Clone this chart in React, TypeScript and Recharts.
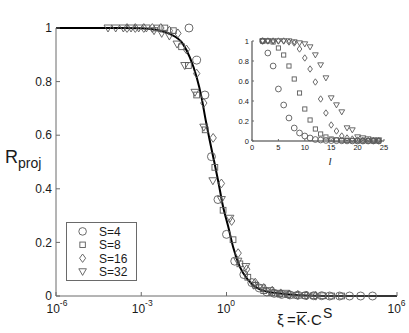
import { ComposedChart, ScatterChart, Scatter, Line, XAxis, YAxis, Legend } from 'recharts'

const FONT = '"Liberation Sans", Arial, sans-serif'
const AXIS = '#6a6a6a'
const INK = '#1a1a1a'
const MARK = '#5a5a5a'

const seriesNames = ['S=4', 'S=8', 'S=16', 'S=32']
const markerKinds = ['circle', 'square', 'diamond', 'triangle']

// l, shared by all four S
const lengths = [2, 3, 4, 5, 6, 7, 8, 9, 10, 11, 12, 13, 14, 15, 16, 17, 18, 19, 20, 21, 22, 23, 24]

// R_proj per l
const rS4 = [1.0, 0.88, 0.75, 0.52, 0.36, 0.23, 0.13, 0.08, 0.05, 0.03, 0.015, 0.01, 0.006, 0.004, 0.003, 0.002, 0.001, 0.001, 0, 0, 0, 0, 0]
const rS8 = [1, 1, 0.99, 0.93, 0.86, 0.75, 0.62, 0.48, 0.32, 0.21, 0.12, 0.07, 0.04, 0.02, 0.012, 0.008, 0.005, 0.003, 0.002, 0.001, 0.001, 0, 0]
const rS16 = [1, 1, 1, 1, 1, 0.99, 0.98, 0.92, 0.83, 0.72, 0.59, 0.42, 0.28, 0.16, 0.1, 0.05, 0.03, 0.02, 0.01, 0.006, 0.004, 0.002, 0.001]
const rS32 = [1, 1, 1, 1, 1, 1, 0.99, 0.98, 0.97, 0.94, 0.86, 0.76, 0.63, 0.43, 0.36, 0.29, 0.13, 0.11, 0.04, 0.03, 0.02, 0.01, 0.01]

// log10(xi) of the same points in the main panel
const logXiS4 = [-1.32, -1.05, -0.76, -0.53, -0.3, 0.0, 0.29, 0.61, 0.89, 1.15, 1.42, 1.68, 1.94, 2.23, 2.51, 2.79, 3.07, 3.35, 3.63, 3.98, 4.33, 4.72, 5.14]
const logXiS8 = [-2.45, -2.17, -1.87, -1.58, -1.34, -1.05, -0.75, -0.41, -0.12, 0.23, 0.47, 0.75, 1.03, 1.31, 1.59, 1.87, 2.16, 2.44, 2.75, 3.07, 3.39, 3.7, 4.05]
const logXiS16 = [-3.5, -3.21, -2.91, -2.61, -2.31, -2.01, -1.71, -1.41, -1.05, -0.8, -0.47, -0.18, 0.18, 0.41, 0.71, 1.01, 1.31, 1.61, 1.91, 2.21, 2.51, 2.82, 3.14]
const logXiS32 = [-4.17, -3.9, -3.63, -3.36, -3.09, -2.82, -2.55, -2.28, -2.01, -1.74, -1.47, -1.11, -0.8, -0.48, -0.18, 0.12, 0.4, 0.68, 0.96, 1.24, 1.52, 1.8, 2.08]

// master curve
const curveLogXi = [-6, -4, -3, -2.5, -2.0, -1.53, -1.29, -1.05, -0.88, -0.73, -0.59, -0.43, -0.3, -0.12, 0.06, 0.23, 0.47, 0.76, 1.23, 1.81, 2.5, 3.5, 6]
const curveR = [1, 1, 0.999, 0.994, 0.978, 0.94, 0.89, 0.816, 0.742, 0.655, 0.58, 0.5, 0.433, 0.333, 0.259, 0.184, 0.109, 0.06, 0.022, 0.01, 0.003, 0, 0]

const xTicks = [1e-6, 1e-3, 1, 1e3, 1e6]
const xTickExponents = ['-6', '-3', '0', '', '6'] // 10^3 label is hidden behind the axis title
const yTicks = [0, 0.2, 0.4, 0.6, 0.8, 1]
const insetXTicks = [0, 5, 10, 15, 20, 25]

const rBySeries = [rS4, rS8, rS16, rS32]
const logXiBySeries = [logXiS4, logXiS8, logXiS16, logXiS32]
const series = seriesNames.map((name, s) => ({
  name,
  kind: markerKinds[s],
  points: lengths.map((l, i) => ({ l, xi: 10 ** logXiBySeries[s][i], r: rBySeries[s][i] })),
}))
const curve = curveLogXi.map((e, i) => ({ xi: 10 ** e, r: curveR[i] }))

function Marker({ kind, cx, cy, size }: { kind: string; cx: number; cy: number; size: number }) {
  const st = { fill: 'none', stroke: MARK, strokeWidth: 0.9 }
  if (kind === 'circle') return <circle cx={cx} cy={cy} r={size} {...st} />
  if (kind === 'square') {
    const h = size * 0.72
    return <rect x={cx - h} y={cy - h} width={2 * h} height={2 * h} {...st} />
  }
  if (kind === 'diamond') {
    const w = size * 0.8
    const h = size * 1.1
    return <path d={`M${cx},${cy - h}L${cx + w},${cy}L${cx},${cy + h}L${cx - w},${cy}Z`} {...st} />
  }
  return <path d={`M${cx - size},${cy - size * 0.75}L${cx + size},${cy - size * 0.75}L${cx},${cy + size}Z`} {...st} />
}

function BottomTick({ x, y, index }: any) {
  const exp = xTickExponents[index]
  return (
    <g>
      <line x1={x} x2={x} y1={y} y2={y - 4} stroke={AXIS} />
      {exp !== '' && (
        <text x={x - 9.5} y={y + 17} fontFamily={FONT} fontSize={12} fill={INK}>
          10<tspan dy={-7} fontSize={8.5}>{exp}</tspan>
        </text>
      )}
    </g>
  )
}
const TopTick = ({ x, y }: any) => <line x1={x} x2={x} y1={y} y2={y + 4} stroke={AXIS} />
function LeftTick({ x, y, payload }: any) {
  return (
    <g>
      <line x1={x} x2={x + 4} y1={y} y2={y} stroke={AXIS} />
      <text x={x - 4} y={y + 4.2} textAnchor="end" fontFamily={FONT} fontSize={12} fill={INK}>
        {payload.value}
      </text>
    </g>
  )
}
const RightTick = ({ x, y }: any) => <line x1={x} x2={x - 4} y1={y} y2={y} stroke={AXIS} />

function InsetBottomTick({ x, y, payload }: any) {
  return (
    <g>
      <line x1={x} x2={x} y1={y} y2={y - 2} stroke={AXIS} />
      <text x={x} y={y + 8.5} textAnchor="middle" fontFamily={FONT} fontSize={7.5} fill={INK}>
        {payload.value}
      </text>
    </g>
  )
}
function InsetLeftTick({ x, y, payload }: any) {
  return (
    <g>
      <line x1={x} x2={x + 2} y1={y} y2={y} stroke={AXIS} />
      <text x={x - 3} y={y + 2.6} textAnchor="end" fontFamily={FONT} fontSize={7.5} fill={INK}>
        {payload.value}
      </text>
    </g>
  )
}

const XTitle = () => (
  <g>
    <text y={325} fontFamily={FONT} fontSize={15} fill={INK}>
      <tspan x={277}>ξ</tspan>
      <tspan x={287}>=</tspan>
      <tspan x={296.5}>K</tspan>
      <tspan x={306}>·</tspan>
      <tspan x={311}>C</tspan>
      <tspan x={323} dy={-7} fontSize={14}>S</tspan>
    </text>
    <line x1={296.5} x2={307} y1={312.5} y2={312.5} stroke={INK} strokeWidth={1} />
  </g>
)
const YTitle = () => (
  <text x={5} y={162.5} fontFamily={FONT} fill={INK}>
    <tspan fontSize={18}>R</tspan>
    <tspan fontSize={14} dy={5.5}>proj</tspan>
  </text>
)
const PanelTitle = () => (
  <text x={61} y={17} fontFamily={FONT} fontSize={17} fill={INK}>a)</text>
)
const InsetXTitle = () => (
  <text x={108} y={135} textAnchor="middle" fontFamily='"Liberation Serif", serif' fontStyle="italic" fontSize={11} fill={INK}>l</text>
)

function LegendBox({ payload }: any) {
  const entries = seriesNames.filter((n) => (payload || []).some((p: any) => p.value === n))
  return (
    <svg width={71} height={60} style={{ display: 'block' }}>
      <rect x={0.5} y={0.5} width={70} height={58} fill="#fff" stroke={AXIS} />
      {entries.map((name, i) => {
        const cy = 9.4 + i * 13.4
        return (
          <g key={name}>
            <Marker kind={markerKinds[seriesNames.indexOf(name)]} cx={16.6} cy={cy} size={3.8} />
            <text x={33} y={cy + 4.3} fontFamily={FONT} fontSize={12} fill={INK}>{name}</text>
          </g>
        )
      })}
    </svg>
  )
}

export default function App() {
  return (
    <div style={{ position: 'absolute', left: 0, top: 0, width: 409, height: 333, background: '#fff' }}>
      <ComposedChart width={409} height={333} margin={{ top: 28, right: 12, bottom: 0, left: 0 }}>
        <XAxis dataKey="xi" type="number" scale="log" domain={[1e-6, 1e6]} ticks={xTicks} interval={0} allowDataOverflow
          height={37} tickSize={0} tickMargin={0} tickLine={false} tick={<BottomTick />} axisLine={{ stroke: AXIS }} label={<XTitle />} />
        <XAxis xAxisId="top" orientation="top" type="number" scale="log" domain={[1e-6, 1e6]} ticks={xTicks} interval={0} allowDataOverflow
          height={0} tickSize={0} tickMargin={0} tickLine={false} tick={<TopTick />} axisLine={{ stroke: AXIS }} label={<PanelTitle />} />
        <YAxis dataKey="r" type="number" domain={[0, 1]} ticks={yTicks} interval={0} width={56}
          tickSize={0} tickMargin={0} tickLine={false} tick={<LeftTick />} axisLine={{ stroke: AXIS }} label={<YTitle />} />
        <YAxis yAxisId="right" orientation="right" type="number" domain={[0, 1]} ticks={yTicks} interval={0} width={0}
          tickSize={0} tickMargin={0} tickLine={false} tick={<RightTick />} axisLine={{ stroke: AXIS }} />
        {series.map((s) => (
          <Scatter key={s.name} name={s.name} data={s.points} isAnimationActive={false}
            shape={(p: any) => <Marker kind={s.kind} cx={p.cx} cy={p.cy} size={4} />} />
        ))}
        <Line data={curve} dataKey="r" type="monotone" dot={false} stroke="#000" strokeWidth={2} legendType="none" isAnimationActive={false} />
        <Legend layout="vertical" align="center" verticalAlign="middle" itemSorter={null} content={<LegendBox />}
          wrapperStyle={{ left: 66, top: 222, width: 71, height: 60 }} />
      </ComposedChart>

      <div style={{ position: 'absolute', left: 222, top: 30 }}>
        <ScatterChart width={175} height={141} margin={{ top: 11, right: 13, bottom: 0, left: 0 }}>
          <XAxis dataKey="l" type="number" domain={[0, 25]} ticks={insetXTicks} interval={0} height={30}
            tickSize={0} tickMargin={0} tickLine={false} tick={<InsetBottomTick />} axisLine={{ stroke: '#333' }} label={<InsetXTitle />} />
          <XAxis xAxisId="top" orientation="top" type="number" domain={[0, 25]} height={0} tick={false} tickLine={false} axisLine={{ stroke: '#333' }} />
          <YAxis dataKey="r" type="number" domain={[0, 1]} ticks={yTicks} interval={0} width={30}
            tickSize={0} tickMargin={0} tickLine={false} tick={<InsetLeftTick />} axisLine={{ stroke: '#333' }} />
          <YAxis yAxisId="right" orientation="right" type="number" domain={[0, 1]} width={0} tick={false} tickLine={false} axisLine={{ stroke: '#333' }} />
          {series.map((s) => (
            <Scatter key={s.name} name={s.name} data={s.points} isAnimationActive={false}
              shape={(p: any) => <Marker kind={s.kind} cx={p.cx} cy={p.cy} size={2.9} />} />
          ))}
        </ScatterChart>
      </div>
    </div>
  )
}
